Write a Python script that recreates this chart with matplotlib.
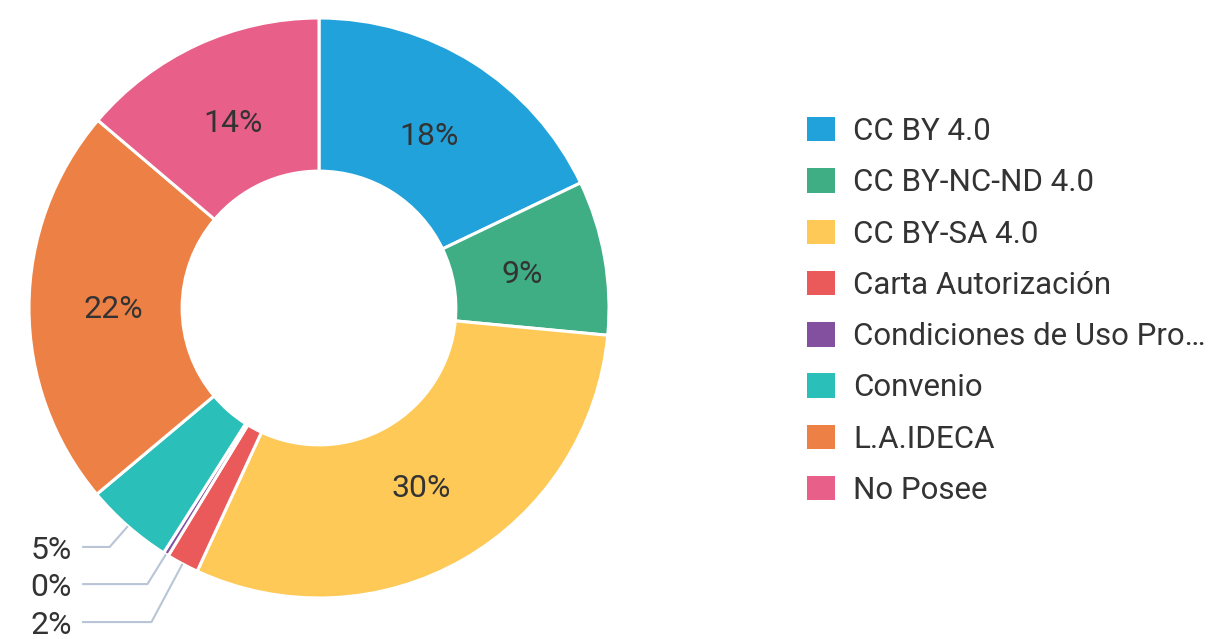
import numpy as np
import matplotlib.pyplot as plt
from matplotlib.patches import Patch

plt.rcParams['font.family'] = ['Roboto', 'DejaVu Sans']

labels = ['CC BY 4.0', 'CC BY-NC-ND 4.0', 'CC BY-SA 4.0', 'Carta Autorización',
          'Condiciones de Uso Pro…', 'Convenio', 'L.A.IDECA', 'No Posee']
values = [17.9, 8.6, 30.4, 1.8, 0.3, 4.9, 22.3, 13.8]
colors = ['#22A2DA', '#3FAE85', '#FEC957', '#EA5A5A', '#83509F', '#2BBFB9', '#ED8044', '#E8608A']

# small slices get their labels outside, with leader lines
outside = {3: -1.083, 4: -0.952, 5: -0.824}

W, H = 1209, 639
cx, cy, R = 319, 308, 290  # centre and outer radius in px

fig = plt.figure(figsize=(W / 100, H / 100), dpi=100)
ax = fig.add_axes([0, 0, 1, 1])

wedges, _ = ax.pie(values, colors=colors, startangle=90, counterclock=False,
                   radius=1, wedgeprops=dict(width=0.528, edgecolor='white', linewidth=2.2))

ax.set_xlim(-cx / R, (W - cx) / R)
ax.set_ylim(-(H - cy) / R, cy / R)
ax.set_aspect('equal')
ax.axis('off')

total = sum(values)
text_col = '#333333'
line_col = '#B9C5D6'
for i, w in enumerate(wedges):
    ang = np.deg2rad((w.theta1 + w.theta2) / 2)
    pct = f'{values[i] / total * 100:.0f}%'
    if i in outside:
        x0, y0 = np.cos(ang), np.sin(ang)
        ly = outside[i]
        t = (ly - y0) / np.sin(ang)
        ex = x0 + t * np.cos(ang)
        ax.plot([x0, ex, -0.817], [y0, ly, ly], color=line_col, lw=1.5, solid_capstyle='butt')
        ax.text(-0.852, ly - 0.012, pct, ha='right', va='center', fontsize=23, color=text_col)
    else:
        r = 0.71
        ax.text(r * np.cos(ang), r * np.sin(ang) - 0.008, pct, ha='center', va='center',
                fontsize=23, color=text_col)

handles = [Patch(facecolor=c, edgecolor='none') for c in colors]
fig.legend(handles, labels, loc='center left', bbox_to_anchor=(807 / W, 1 - 311 / H),
           frameon=False, fontsize=22.5, labelspacing=0.71, handlelength=0.9,
           handleheight=0.83, handletextpad=0.57, labelcolor=text_col,
           borderaxespad=0, borderpad=0)

fig.savefig('out.png', dpi=100)
